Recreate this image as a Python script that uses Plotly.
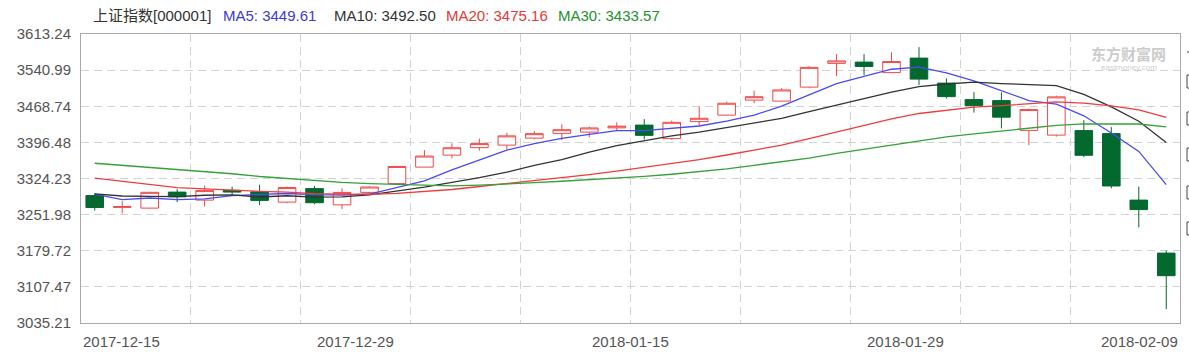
import plotly.graph_objects as go

# ---------------- data ----------------
dates = ["2017-12-15", "2017-12-18", "2017-12-19", "2017-12-20", "2017-12-21", "2017-12-22",
         "2017-12-25", "2017-12-26", "2017-12-27", "2017-12-28", "2017-12-29",
         "2018-01-02", "2018-01-03", "2018-01-04", "2018-01-05", "2018-01-08", "2018-01-09",
         "2018-01-10", "2018-01-11", "2018-01-12", "2018-01-15", "2018-01-16", "2018-01-17",
         "2018-01-18", "2018-01-19", "2018-01-22", "2018-01-23", "2018-01-24", "2018-01-25",
         "2018-01-26", "2018-01-29", "2018-01-30", "2018-01-31", "2018-02-01", "2018-02-02",
         "2018-02-05", "2018-02-06", "2018-02-07", "2018-02-08", "2018-02-09"]

opens = [3290.0, 3266.5, 3265.0, 3297.0, 3281.0, 3300.5, 3297.5, 3277.0, 3304.0, 3271.5,
         3296.5, 3314.0, 3347.0, 3371.0, 3386.0, 3391.0, 3405.0, 3414.5, 3417.0, 3425.5,
         3431.0, 3404.0, 3438.0, 3451.0, 3481.0, 3479.0, 3507.0, 3554.5, 3557.0, 3536.0,
         3565.0, 3515.0, 3482.0, 3480.0, 3420.5, 3411.0, 3420.0, 3414.0, 3281.0, 3175.0]
highs = [3294.5, 3279.0, 3297.5, 3303.0, 3310.0, 3308.0, 3312.0, 3308.0, 3309.0, 3304.5,
         3309.0, 3349.5, 3381.0, 3394.5, 3404.0, 3416.0, 3419.0, 3432.5, 3428.0, 3436.5,
         3443.0, 3440.0, 3468.0, 3478.0, 3500.0, 3505.0, 3549.0, 3573.0, 3573.0, 3576.5,
         3587.0, 3524.5, 3497.0, 3496.5, 3464.0, 3490.0, 3441.0, 3427.0, 3308.0, 3180.0]
lows = [3260.0, 3254.5, 3264.0, 3277.0, 3268.0, 3292.0, 3271.0, 3275.0, 3273.0, 3263.0,
        3295.0, 3313.5, 3346.5, 3364.5, 3380.0, 3382.5, 3402.5, 3401.0, 3406.5, 3420.0,
        3402.5, 3402.0, 3430.0, 3450.0, 3475.0, 3478.0, 3506.0, 3529.0, 3531.0, 3535.0,
        3511.0, 3484.5, 3456.0, 3424.5, 3391.0, 3408.0, 3367.0, 3304.5, 3226.5, 3063.0]
closes = [3266.14, 3267.92, 3296.54, 3287.61, 3300.06, 3297.06, 3280.46, 3306.12, 3275.78, 3296.38,
          3307.17, 3348.33, 3369.11, 3385.71, 3394.00, 3409.48, 3413.90, 3421.83, 3425.34, 3428.94,
          3410.49, 3436.59, 3444.67, 3474.75, 3487.86, 3501.36, 3546.50, 3559.47, 3548.31, 3558.13,
          3523.00, 3488.01, 3470.00, 3446.98, 3462.08, 3487.50, 3370.65, 3309.26, 3262.05, 3129.85]

ma5 = [3292.93, 3282.07, 3285.22, 3282.13, 3283.65, 3289.84, 3292.35, 3294.26, 3291.90, 3291.16,
       3293.18, 3306.76, 3319.35, 3341.34, 3360.41, 3380.88, 3393.99, 3404.53, 3412.46, 3419.90,
       3420.10, 3424.64, 3429.21, 3439.09, 3450.87, 3469.05, 3491.03, 3513.99, 3528.70, 3542.75,
       3547.08, 3535.38, 3519.66, 3499.39, 3480.18, 3473.08, 3449.61, 3415.29, 3378.31, 3311.86]
ma10 = [3293.39, 3289.22, 3288.51, 3287.87, 3290.68, 3291.38, 3287.21, 3289.74, 3287.01, 3287.41,
        3291.51, 3299.55, 3306.81, 3316.62, 3325.79, 3337.03, 3350.37, 3361.94, 3376.90, 3390.16,
        3400.49, 3409.31, 3416.87, 3425.77, 3435.39, 3444.57, 3457.83, 3471.60, 3483.89, 3496.81,
        3508.06, 3513.21, 3516.82, 3514.05, 3511.47, 3510.08, 3492.50, 3467.48, 3438.85, 3396.02]
ma20 = [3325.08, 3318.86, 3313.16, 3306.02, 3303.42, 3300.58, 3298.50, 3297.12, 3294.01, 3292.97,
        3292.45, 3294.39, 3297.66, 3302.25, 3308.23, 3314.21, 3318.79, 3325.84, 3331.96, 3338.78,
        3346.00, 3354.43, 3361.84, 3371.20, 3380.59, 3390.80, 3404.10, 3416.77, 3430.40, 3443.48,
        3454.28, 3461.26, 3466.85, 3469.91, 3473.43, 3477.33, 3475.16, 3469.54, 3461.37, 3446.42]
ma30 = [3354.71, 3350.70, 3346.80, 3342.54, 3338.28, 3333.76, 3328.18, 3324.07, 3319.84, 3316.41,
        3313.89, 3312.42, 3311.04, 3309.55, 3310.88, 3312.73, 3315.79, 3318.73, 3321.64, 3325.37,
        3328.46, 3332.70, 3337.40, 3343.42, 3350.62, 3357.66, 3365.14, 3374.43, 3382.60, 3391.46,
        3400.02, 3407.36, 3413.50, 3418.81, 3424.21, 3430.56, 3433.57, 3433.67, 3433.21, 3427.66]

y_ticks = [3035.21, 3107.47, 3179.72, 3251.98, 3324.23, 3396.48, 3468.74, 3540.99, 3613.24]
x_label_dates = ["2017-12-15", "2017-12-29", "2018-01-15", "2018-01-29", "2018-02-09"]

header_name = "上证指数[000001]"
header_labels = ["MA5", "MA10", "MA20", "MA30"]
header_values = [3449.61, 3492.50, 3475.16, 3433.57]

# ---------------- styling ----------------
W, H = 1189, 362
ML, MR, MT, MB = 81, 9, 34, 39
PW, PH = W - ML - MR, H - MT - MB
FONT = "Liberation Sans, Arial, Noto Sans CJK SC, sans-serif"
UP = "#f04848"
DOWN = "#03692f"
MA_COLORS = ["#4a4af2", "#333333", "#f03c3c", "#36a03a"]
HEADER_COLORS = ["#3c3cd0", "#333333", "#e53935", "#23922b"]
GRID = "#d3d3d3"


def px(xp):
    return (xp - ML) / PW


def py(yp):
    return 1 - (yp - MT) / PH


idx = list(range(len(dates)))
n = len(dates)

fig = go.Figure()
for vals, col in zip([ma5, ma10, ma20, ma30], MA_COLORS):
    fig.add_trace(go.Scatter(x=idx, y=vals, mode="lines", line=dict(color=col, width=1.3),
                             showlegend=False, hoverinfo="skip"))

fig.add_trace(go.Candlestick(
    x=idx, open=opens, high=highs, low=lows, close=closes,
    increasing=dict(line=dict(color=UP, width=1), fillcolor="#ffffff"),
    decreasing=dict(line=dict(color=DOWN, width=1), fillcolor=DOWN),
    whiskerwidth=0, showlegend=False, hoverinfo="skip"))

grid_x = [i - 0.5 for i in range(4, n, 4)]

annotations = []
# x-axis date labels
for d in x_label_dates:
    i = dates.index(d)
    if i == 0:
        xv, anc = -0.5, "left"
    elif i == n - 1:
        xv, anc = n - 0.5, "right"
    else:
        xv, anc = i - 0.5, "center"
    annotations.append(dict(x=xv, xref="x", y=py(341.5), yref="paper", text=d,
                            xanchor=anc, yanchor="middle", showarrow=False,
                            font=dict(family=FONT, size=15, color="#555555")))

# header
header_texts = [header_name] + [f"{l}: {v:.2f}" for l, v in zip(header_labels, header_values)]
header_cols = ["#333333"] + HEADER_COLORS
header_x = [91, 221, 332, 444, 556]
for t, c, xp in zip(header_texts, header_cols, header_x):
    annotations.append(dict(x=px(xp), xref="paper", y=py(15), yref="paper", text=t,
                            xanchor="left", yanchor="middle", showarrow=False,
                            font=dict(family=FONT, size=15, color=c)))

# watermark
annotations.append(dict(x=px(1128), xref="paper", y=py(53), yref="paper", text="<b>东方财富网</b>",
                        xanchor="center", yanchor="middle", showarrow=False, borderpad=0,
                        font=dict(family="Noto Sans CJK SC, sans-serif", size=15, color="#cccccc")))
annotations.append(dict(x=px(1129), xref="paper", y=py(67), yref="paper", text="eastmoney.com",
                        xanchor="center", yanchor="middle", showarrow=False, borderpad=0,
                        font=dict(family=FONT, size=8, color="#cfcfcf")))

shapes = []
# partial toolbar boxes on the right edge
for y0 in [75, 112, 148, 186, 222]:
    shapes.append(dict(type="rect", xref="paper", yref="paper",
                       x0=px(1187), x1=px(1200), y0=py(y0 + 13), y1=py(y0),
                       line=dict(color="#444444", width=1), fillcolor="rgba(0,0,0,0)"))
shapes.append(dict(type="line", xref="paper", yref="paper", x0=px(1187), x1=px(1200),
                   y0=py(52), y1=py(52), line=dict(color="#444444", width=1)))

fig.update_layout(
    width=W, height=H,
    margin=dict(l=ML, r=MR, t=MT, b=MB),
    paper_bgcolor="#ffffff", plot_bgcolor="#ffffff",
    showlegend=False,
    boxgap=0.36, boxgroupgap=0,
    annotations=annotations,
    shapes=shapes,
    xaxis=dict(range=[-0.5, n - 0.5], tickmode="array", tickvals=grid_x, showticklabels=False,
               showgrid=True, gridcolor=GRID, griddash="8px,5px", gridwidth=1,
               showline=True, linecolor="#aaaaaa", linewidth=1, mirror=True,
               zeroline=False, ticks="", rangeslider=dict(visible=False), fixedrange=True),
    yaxis=dict(range=[y_ticks[0], y_ticks[-1]], tickmode="array", tickvals=y_ticks,
               ticktext=[f"{v:.2f}" for v in y_ticks],
               showgrid=True, gridcolor=GRID, griddash="8px,5px", gridwidth=1,
               showline=True, linecolor="#aaaaaa", linewidth=1, mirror=True,
               zeroline=False, ticks="", fixedrange=True, ticklabelstandoff=6,
               tickfont=dict(family=FONT, size=15, color="#555555")),
)

fig.write_html("out.html")
